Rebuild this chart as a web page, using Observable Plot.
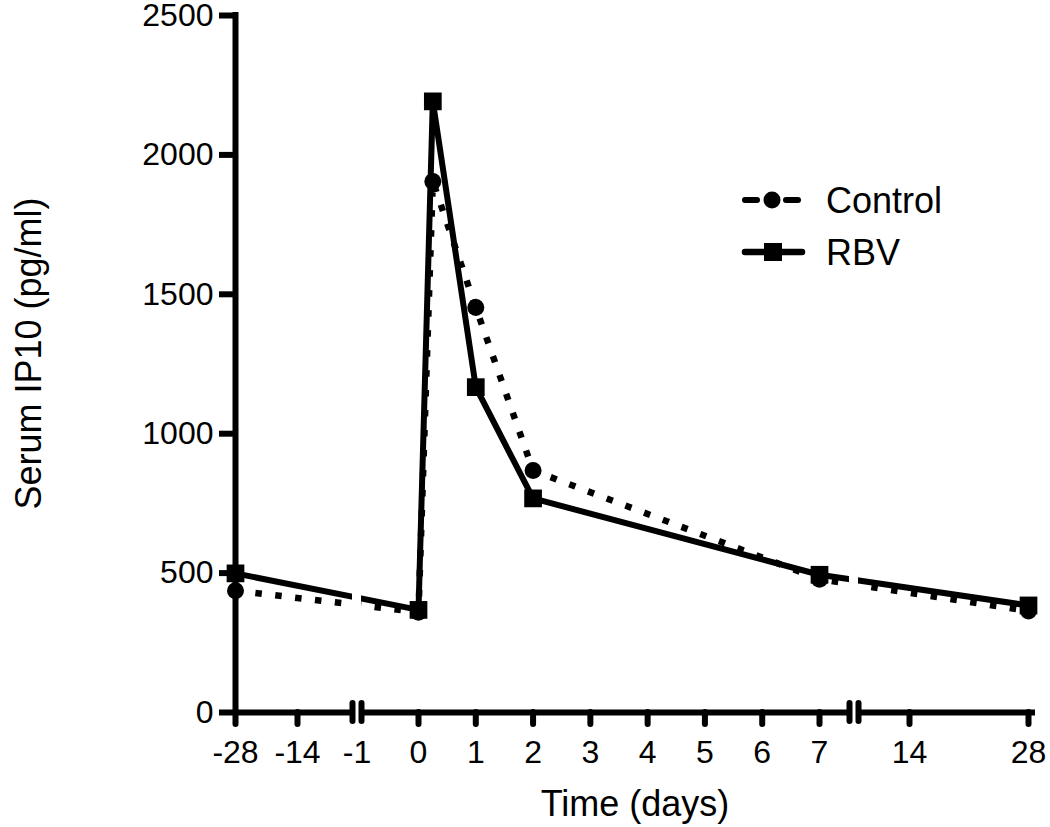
<!DOCTYPE html>
<html><head><meta charset="utf-8">
<script src="https://cdn.jsdelivr.net/npm/d3@7"></script>
<script src="https://cdn.jsdelivr.net/npm/@observablehq/plot@0.6"></script>
<style>
body{margin:0;background:#fff;}
#wrap{position:relative;width:1050px;height:827px;font-family:"Liberation Sans",Arial,sans-serif;}
#legend{position:absolute;left:0;top:0;pointer-events:none;}
</style></head><body><div id="wrap"></div>
<script>
// ---- data ----
const days = [-28, 0, 0.25, 1, 2, 7, 28];
const control = [437, 360, 1905, 1453, 868, 478, 364];
const rbv = [499, 368, 2192, 1167, 768, 494, 384];
const seriesNames = ["Control", "RBV"];
const xTicks = [-28, -14, -1, 0, 1, 2, 3, 4, 5, 6, 7, 14, 28];
const yTicks = [0, 500, 1000, 1500, 2000, 2500];
const axisBreaks = [-1, 10];          // positions of the axis breaks (days)
const xTitle = "Time (days)";
const yTitle = "Serum IP10 (pg/ml)";

const rows = [
  ...days.map((d, i) => ({day: d, value: control[i], series: seriesNames[0]})),
  ...days.map((d, i) => ({day: d, value: rbv[i], series: seriesNames[1]}))
];
const ctrlRows = rows.filter(r => r.series === seriesNames[0]);
const rbvRows = rows.filter(r => r.series === seriesNames[1]);

const W = 1050, H = 827;
const gapHalf = 4.5;
const SW = 6;
const axisStyle = {stroke: "black", strokeWidth: SW, strokeLinecap: "butt"};

const chart = Plot.plot({
  width: W, height: H,
  marginLeft: 235, marginRight: 22, marginTop: 15, marginBottom: 115,
  style: {fontFamily: "Liberation Sans, Arial, sans-serif", fontSize: "32px", color: "black", background: "white"},
  x: {type: "linear", domain: [-28, -14, -1, 0, 7, 10, 14, 28],
      range: [235, 297, 356.5, 418, 819, 853.5, 909, 1028]},
  y: {type: "linear", domain: [0, 2500]},
  marks: [
    // series
    Plot.line(ctrlRows, {x: "day", y: "value", stroke: "black", strokeWidth: 6.5,
      strokeDasharray: "6.5 13.5", strokeLinecap: "butt", strokeLinejoin: "miter"}),
    Plot.line(rbvRows, {x: "day", y: "value", stroke: "black", strokeWidth: 6, strokeLinejoin: "miter"}),
    Plot.dot(ctrlRows, {x: "day", y: "value", r: 8.5, fill: "black", symbol: "circle"}),
    Plot.dot(rbvRows, {x: "day", y: "value", r: 10, fill: "black", symbol: "square"}),
    // break gaps
    Plot.rect(axisBreaks, {x1: d => d, x2: d => d, fill: "white", insetLeft: -gapHalf, insetRight: -gapHalf}),
    // y axis
    Plot.ruleX([-28], {...axisStyle, strokeLinecap: "square"}),
    Plot.ruleY(yTicks, {y: d => d, x1: -28, x2: -28, insetLeft: -16, ...axisStyle}),
    Plot.axisY({ticks: yTicks, tickSize: 0, tickPadding: 22,
      label: null, tickFormat: d => String(d), fontSize: 32}),
    // x axis segments
    Plot.ruleY([0], {...axisStyle, x1: -28, x2: axisBreaks[0], insetRight: gapHalf}),
    Plot.ruleY([0], {...axisStyle, x1: axisBreaks[0], x2: axisBreaks[1], insetLeft: gapHalf, insetRight: gapHalf}),
    Plot.ruleY([0], {...axisStyle, x1: axisBreaks[1], x2: 28, insetLeft: gapHalf, insetRight: -7}),
    // break marks
    Plot.ruleX(axisBreaks, {x: d => d, y1: 0, y2: 0, insetTop: -9, insetBottom: -9, dx: -gapHalf, stroke: "black", strokeWidth: SW, strokeLinecap: "round"}),
    Plot.ruleX(axisBreaks, {x: d => d, y1: 0, y2: 0, insetTop: -9, insetBottom: -9, dx: gapHalf, stroke: "black", strokeWidth: SW, strokeLinecap: "round"}),
    // x ticks and labels
    Plot.ruleX(xTicks.filter(t => !axisBreaks.includes(t)), {x: d => d, y1: 0, y2: 0, insetBottom: -12,
      stroke: "black", strokeWidth: SW, strokeLinecap: "round"}),
    Plot.axisX({ticks: xTicks, tickSize: 0, tickPadding: 28,
      label: null, tickFormat: d => String(d), fontSize: 32}),
    // titles
    Plot.text([xTitle], {text: d => d, frameAnchor: "bottom", lineAnchor: "bottom", dy: 103, dx: 3, fontSize: 36}),
    Plot.text([yTitle], {text: d => d, frameAnchor: "left", textAnchor: "middle", lineAnchor: "bottom", rotate: -90, dx: -195, dy: -10.5, fontSize: 36})
  ]
});
const wrap = document.getElementById("wrap");
wrap.appendChild(chart);

// legend overlay
const svg = d3.select(wrap).append("svg").attr("id", "legend").attr("width", W).attr("height", H);
const lg = [{name: seriesNames[0], y: 200, dashed: true}, {name: seriesNames[1], y: 252, dashed: false}];
lg.forEach(l => {
  const g = svg.append("g");
  if (l.dashed) {
    g.append("line").attr("x1", 745).attr("x2", 757).attr("y1", l.y).attr("y2", l.y).attr("stroke", "black").attr("stroke-width", 6).attr("stroke-linecap", "round");
    g.append("line").attr("x1", 786).attr("x2", 798).attr("y1", l.y).attr("y2", l.y).attr("stroke", "black").attr("stroke-width", 6).attr("stroke-linecap", "round");
    g.append("circle").attr("cx", 772).attr("cy", l.y).attr("r", 8.5).attr("fill", "black");
  } else {
    g.append("line").attr("x1", 745).attr("x2", 802).attr("y1", l.y).attr("y2", l.y).attr("stroke", "black").attr("stroke-width", 6.5).attr("stroke-linecap", "round");
    g.append("rect").attr("x", 764).attr("y", l.y - 9).attr("width", 18).attr("height", 18).attr("fill", "black");
  }
  g.append("text").attr("x", 826).attr("y", l.y).attr("dy", "0.35em").attr("font-size", 36)
    .attr("font-family", "Liberation Sans, Arial, sans-serif").attr("fill", "black").text(l.name);
});
</script></body></html>
